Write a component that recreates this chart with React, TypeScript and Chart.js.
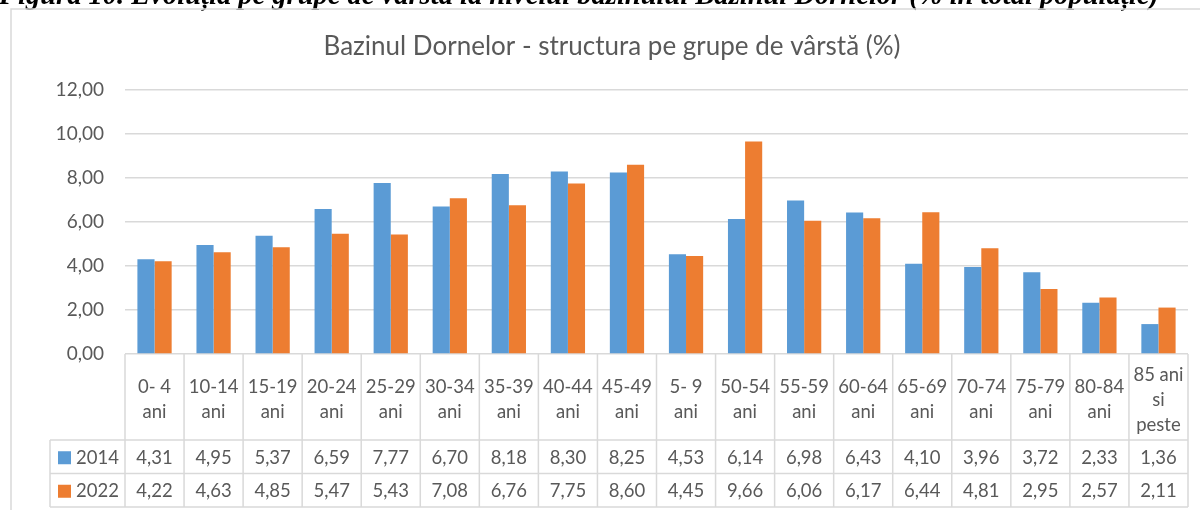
import React, { useEffect, useRef } from "react";
import { Chart, registerables } from "chart.js";

Chart.register(...registerables);

const caption =
  "Figura 10. Evoluția pe grupe de vârstă la nivelul bazinului Bazinul Dornelor (% în total populație)";
const title = "Bazinul Dornelor - structura pe grupe de vârstă (%)";

const categoryLabels: string[][] = [
  ["0- 4", "ani"],
  ["10-14", "ani"],
  ["15-19", "ani"],
  ["20-24", "ani"],
  ["25-29", "ani"],
  ["30-34", "ani"],
  ["35-39", "ani"],
  ["40-44", "ani"],
  ["45-49", "ani"],
  ["5- 9", "ani"],
  ["50-54", "ani"],
  ["55-59", "ani"],
  ["60-64", "ani"],
  ["65-69", "ani"],
  ["70-74", "ani"],
  ["75-79", "ani"],
  ["80-84", "ani"],
  ["85 ani", "si", "peste"],
];

const seriesNames = ["2014", "2022"];
const values2014 = [4.31, 4.95, 5.37, 6.59, 7.77, 6.7, 8.18, 8.3, 8.25, 4.53, 6.14, 6.98, 6.43, 4.1, 3.96, 3.72, 2.33, 1.36];
const values2022 = [4.22, 4.63, 4.85, 5.47, 5.43, 7.08, 6.76, 7.75, 8.6, 4.45, 9.66, 6.06, 6.17, 6.44, 4.81, 2.95, 2.57, 2.11];
const colors = ["#5B9BD5", "#ED7D31"];

const yMin = 0;
const yMax = 12;
const yStep = 2;

const FONT = "Lato, 'Open Sans', sans-serif";
const TEXT = "#595959";
const LINE = "#d9d9d9";

const fmt = (v: number) => v.toFixed(2).replace(".", ",");

const decorPlugin = {
  id: "decor",
  beforeDraw(chart: any) {
    const ctx = chart.ctx;
    ctx.save();
    ctx.fillStyle = "#ffffff";
    ctx.fillRect(0, 0, chart.width, chart.height);
    // caption (cut off at top)
    ctx.fillStyle = "#000000";
    ctx.font = "italic bold 20px 'Liberation Serif', 'Times New Roman', serif";
    ctx.textAlign = "left";
    ctx.textBaseline = "alphabetic";
    const w = ctx.measureText(caption).width;
    const size = (20 * 1160) / w;
    ctx.font = `italic bold ${size}px 'Liberation Serif', 'Times New Roman', serif`;
    ctx.fillText(caption, -1, 4);
    // frame
    ctx.strokeStyle = LINE;
    ctx.lineWidth = 1.5;
    ctx.strokeRect(11, 9, chart.width + 20, chart.height + 20);
    // title
    ctx.fillStyle = TEXT;
    ctx.font = `26px ${FONT}`;
    ctx.textAlign = "center";
    ctx.textBaseline = "middle";
    ctx.fillText(title, 612, 47);
    ctx.restore();
  },
  afterDraw(chart: any) {
    const ctx = chart.ctx;
    const ca = chart.chartArea;
    const xs = chart.scales.x;
    const n = categoryLabels.length;
    const step = xs.getPixelForValue(1) - xs.getPixelForValue(0);
    const top = ca.bottom;
    const labelH = 86;
    const rowH = 33.5;
    const r1 = top + labelH;
    const r2 = r1 + rowH;
    const r3 = r2 + rowH;
    const legendLeft = 50;
    ctx.save();
    ctx.strokeStyle = LINE;
    ctx.lineWidth = 1.5;
    ctx.beginPath();
    for (let i = 0; i <= n; i++) {
      const xb = xs.getPixelForValue(0) - step / 2 + i * step;
      ctx.moveTo(xb, top);
      ctx.lineTo(xb, r3);
    }
    ctx.moveTo(legendLeft, r1);
    ctx.lineTo(legendLeft, r3);
    [r1, r2, r3].forEach((y) => {
      ctx.moveTo(legendLeft, y);
      ctx.lineTo(xs.getPixelForValue(n - 1) + step / 2, y);
    });
    ctx.stroke();

    ctx.fillStyle = TEXT;
    ctx.font = `18.5px ${FONT}`;
    ctx.textAlign = "center";
    ctx.textBaseline = "middle";
    const lineGap = 25;
    categoryLabels.forEach((lines, i) => {
      const cx = xs.getPixelForValue(i);
      const cy = top + labelH / 2 + 3;
      const y0 = cy - ((lines.length - 1) * lineGap) / 2;
      lines.forEach((t, k) => ctx.fillText(t, cx, y0 + k * lineGap));
    });
    const rows = [values2014, values2022];
    const rowTops = [r1, r2];
    rows.forEach((vals, r) => {
      const cy = rowTops[r] + rowH / 2 + 1;
      vals.forEach((v, i) => ctx.fillText(fmt(v), xs.getPixelForValue(i), cy));
      ctx.fillStyle = colors[r];
      ctx.fillRect(58, cy - 6.5, 13, 13);
      ctx.fillStyle = TEXT;
      ctx.textAlign = "left";
      ctx.fillText(seriesNames[r], 76, cy);
      ctx.textAlign = "center";
    });
    ctx.restore();
  },
};

export default function App() {
  const ref = useRef<HTMLCanvasElement>(null);
  useEffect(() => {
    if (!ref.current) return;
    const chart = new Chart(ref.current, {
      type: "bar",
      data: {
        labels: categoryLabels.map((l) => l.join(" ")),
        datasets: [
          { label: seriesNames[0], data: values2014, backgroundColor: colors[0], borderWidth: 0 },
          { label: seriesNames[1], data: values2022, backgroundColor: colors[1], borderWidth: 0 },
        ],
      },
      options: {
        responsive: false,
        animation: false,
        events: [],
        layout: { padding: { top: 90, bottom: 156, left: 0, right: 12 } },
        datasets: { bar: { barPercentage: 1, categoryPercentage: 0.58 } },
        plugins: { legend: { display: false }, title: { display: false }, tooltip: { enabled: false } },
        scales: {
          x: { display: false, offset: true },
          y: {
            min: yMin,
            max: yMax,
            border: { display: false },
            grid: { color: LINE, lineWidth: 1.5, drawTicks: false },
            ticks: {
              stepSize: yStep,
              padding: 21,
              color: TEXT,
              font: { family: FONT, size: 19 },
              callback: (v: any) => fmt(Number(v)),
            },
            afterFit: (s: any) => {
              s.width = 125;
            },
          },
        },
      },
      plugins: [decorPlugin],
    });
    return () => chart.destroy();
  }, []);
  return (
    <div style={{ position: "absolute", left: 0, top: 0, width: 1200, height: 510 }}>
      <canvas ref={ref} width={1200} height={510} style={{ display: "block" }} />
    </div>
  );
}
